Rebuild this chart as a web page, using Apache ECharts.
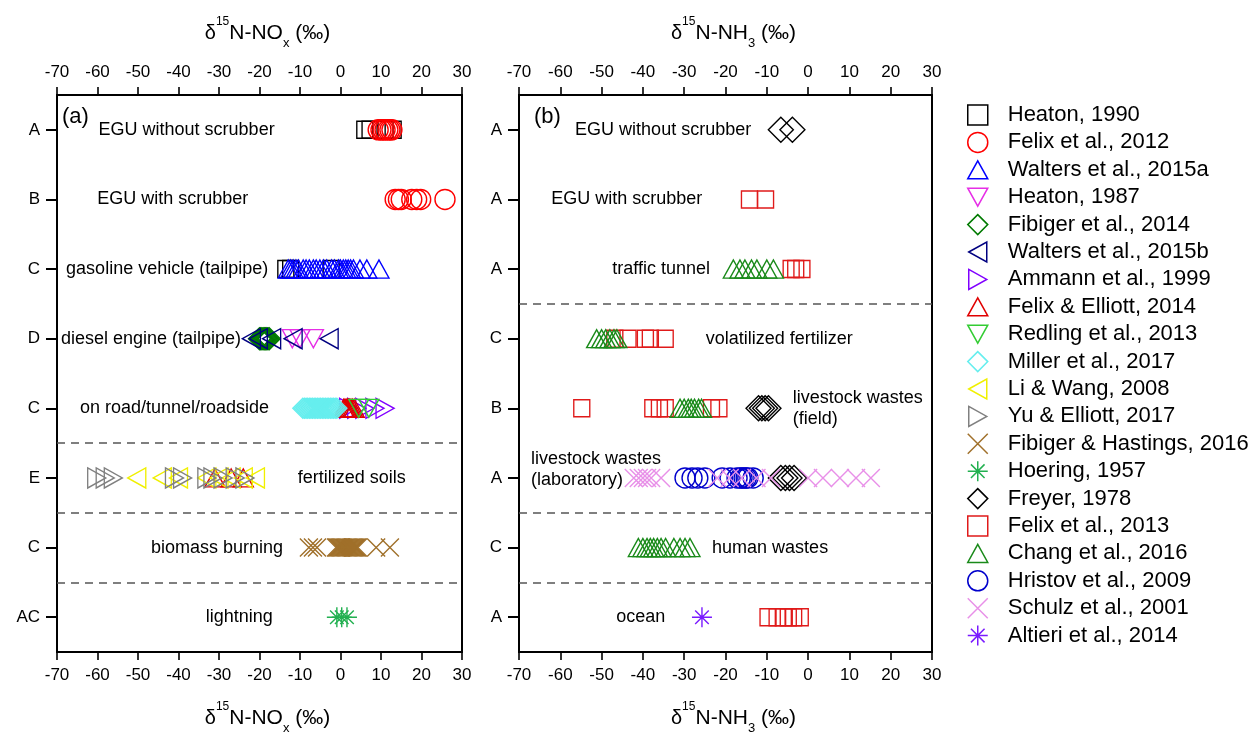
<!DOCTYPE html>
<html><head><meta charset="utf-8">
<script src="https://cdn.jsdelivr.net/npm/echarts/dist/echarts.min.js"></script>
<style>html,body{margin:0;padding:0;background:#fff}#c{width:1254px;height:736px}</style>
</head><body><div id="c"></div>
<script>
// ---------- axes / tick labels ----------
const xMin = -70, xMax = 30, xStep = 10;
const rowLabelsA = ['A', 'B', 'C', 'D', 'C', 'E', 'C', 'AC'];
const rowLabelsB = ['A', 'A', 'A', 'C', 'B', 'A', 'C', 'A'];
const separatorsA = [5, 6, 7];
const separatorsB = [3, 6, 7];
const panelLetters = ['(a)', '(b)'];

// ---------- text annotations: [text, x value, row, align] ----------
const annotA = [
  ['EGU without scrubber', -38, 0, 'center'],
  ['EGU with scrubber', -41.4, 1, 'center'],
  ['gasoline vehicle (tailpipe)', -42.8, 2, 'center'],
  ['diesel engine (tailpipe)', -46.8, 3, 'center'],
  ['on road/tunnel/roadside', -41, 4, 'center'],
  ['fertilized soils', 2.8, 5, 'center'],
  ['biomass burning', -30.5, 6, 'center'],
  ['lightning', -25, 7, 'center']
];
const annotB = [
  ['EGU without scrubber', -35.1, 0, 'center'],
  ['EGU with scrubber', -43.9, 1, 'center'],
  ['traffic tunnel', -35.6, 2, 'center'],
  ['volatilized fertilizer', -7, 3, 'center'],
  ['livestock wastes\n(field)', -3.7, 4, 'left'],
  ['livestock wastes\n(laboratory)', -67.1, 5, 'left'],
  ['human wastes', -9.2, 6, 'center'],
  ['ocean', -40.5, 7, 'center']
];

// ---------- data: [delta15N value, row index] ----------
// panel (a) NOx
const heaton1990 = [[6,0],[7.3,0],[11,0],[13,0],[-13.5,2],[-12.3,2],[-2.3,2]];
const felix2012 = [[9.3,0],[10,0],[10.5,0],[11,0],[11.7,0],[12.2,0],[12.7,0],
  [13.5,1],[14.3,1],[15,1],[17.6,1],[18.8,1],[19.8,1],[25.8,1]];
const walters2015a = [[-12.9,2],[-12.3,2],[-11.7,2],[-11,2],[-10.4,2],[-9.2,2],[-8.5,2],[-7.7,2],[-6.7,2],[-6,2],
  [-5.1,2],[-4.2,2],[-3.4,2],[-2.2,2],[-1.5,2],[-0.5,2],[0,2],[0.7,2],[1.3,2],[1.9,2],[2.5,2],[3.2,2],[4.8,2],[6.5,2],[9.5,2]];
const heaton1987 = [[-11.9,3],[-10,3],[-6.7,3]];
const fibiger2014 = [[-20,3],[-19.7,3],[-19.4,3],[-19.1,3],[-18.8,3],[-18.5,3],[-18.2,3],[-17.9,3],[-17.6,3]];
const walters2015b = [[-22,3],[-20.3,3],[-17,3],[-11.7,3],[-2.8,3]];
const ammann1999 = [[2,4],[4,4],[6,4],[8.5,4],[11,4]];
const felixElliott2014 = [[0.8,4],[1.1,4],[1.4,4],[1.7,4],[2,4],[2.3,4],[2.6,4],[3,4],[3.4,4],
  [-31,5],[-27,5],[-24,5]];
const redling2013 = [[4.5,4],[7,4]];
const miller2017 = [[-9.3,4],[-8.9,4],[-8.5,4],[-8.1,4],[-7.7,4],[-7.3,4],[-6.9,4],[-6.5,4],[-6.1,4],[-5.7,4],[-5.3,4],
  [-4.9,4],[-4.5,4],[-4.1,4],[-3.7,4],[-3.3,4],[-2.9,4],[-2.5,4],[-2.1,4],[-1.7,4],[-1.3,4],[-0.9,4]];
const liWang2008 = [[-50.3,5],[-44,5],[-40,5],[-33,5],[-30,5],[-27,5],[-24,5],[-21,5]];
const yuElliott2017 = [[-60.2,5],[-58.1,5],[-56.1,5],[-41,5],[-39,5],[-33,5],[-31.5,5],[-29,5],[-26,5],[-23.6,5]];
const fibigerHastings2016 = [[-7.8,6],[-6.8,6],[-5.8,6],[-1.1,6],[-0.8,6],[-0.5,6],[-0.2,6],[0.1,6],[0.4,6],[0.7,6],
  [1,6],[1.3,6],[1.6,6],[1.9,6],[2.2,6],[2.5,6],[2.8,6],[3.1,6],[3.4,6],[3.7,6],[4,6],[4.3,6],[8.8,6],[12.2,6]];
const hoering1957 = [[-0.9,7],[0.3,7],[1.6,7]];
// panel (b) NH3
const freyer1978 = [[-6.6,0],[-3.8,0],[-12,4],[-11.2,4],[-10.4,4],[-9.6,4],[-6.6,5],[-5.5,5],[-4.5,5],[-3.4,5]];
const felix2013 = [[-14.2,1],[-10.3,1],[-4.1,2],[-3,2],[-1.5,2],
  [-46.8,3],[-43.6,3],[-39.4,3],[-38.2,3],[-34.6,3],
  [-54.8,4],[-37.6,4],[-36,4],[-34.6,4],[-23.4,4],[-21.6,4],
  [-9.7,7],[-7.5,7],[-6,7],[-4.8,7],[-3.5,7],[-1.9,7]];
const chang2016 = [[-18.1,2],[-16.5,2],[-15.3,2],[-13.7,2],[-12.4,2],[-10,2],[-8.4,2],
  [-51.2,3],[-50,3],[-49,3],[-48,3],[-47,3],[-46.3,3],
  [-31,4],[-30,4],[-29,4],[-28.3,4],[-27.5,4],[-26.5,4],[-25.8,4],
  [-41.1,6],[-40,6],[-39,6],[-38.2,6],[-37.4,6],[-36.5,6],[-35.6,6],[-34.5,6],[-32.5,6],[-31,6],[-29.8,6],[-28.6,6]];
const hristov2009 = [[-29.8,5],[-28.1,5],[-26.7,5],[-25,5],[-20.8,5],[-18.9,5],[-17.2,5],[-16.4,5],[-16,5],[-15.5,5],
  [-15,5],[-14.6,5],[-13.3,5]];
const schulz2001 = [[-42.2,5],[-41,5],[-40,5],[-39,5],[-38,5],[-35.6,5],[-22,5],[-19,5],[-16,5],[-12.5,5],[-9,5],
  [0,5],[3.6,5],[7.7,5],[11.6,5],[15.2,5]];
const altieri2014 = [[-25.7,7]];

// ---------- symbols ----------
const CROSS = 'path://M0,0L10,10M0,10L10,0';
const STAR = 'path://M5,0L5,10M0,5L10,5M1.6,1.6L8.4,8.4M1.6,8.4L8.4,1.6';
const T_UP = 'path://M5,0L10,9L0,9Z';
const T_DOWN = 'path://M0,0L10,0L5,9Z';
const T_LEFT = 'path://M0,5L9,0L9,10Z';
const T_RIGHT = 'path://M0,0L9,5L0,10Z';
const TH = [20, 18], TV = [18, 20];

const sources = [
  {name:'Heaton, 1990', data:heaton1990, g:0, symbol:'rect', size:[16,17], color:'#000000'},
  {name:'Felix et al., 2012', data:felix2012, g:0, symbol:'circle', size:20, color:'#ff0000'},
  {name:'Walters et al., 2015a', data:walters2015a, g:0, symbol:T_UP, size:TH, color:'#0000ff'},
  {name:'Heaton, 1987', data:heaton1987, g:0, symbol:T_DOWN, size:TH, color:'#e62ee6'},
  {name:'Fibiger et al., 2014', data:fibiger2014, g:0, symbol:'diamond', size:22, color:'#007a00'},
  {name:'Walters et al., 2015b', data:walters2015b, g:0, symbol:T_LEFT, size:TV, color:'#000080'},
  {name:'Ammann et al., 1999', data:ammann1999, g:0, symbol:T_RIGHT, size:TV, color:'#8000ff'},
  {name:'Felix & Elliott, 2014', data:felixElliott2014, g:0, symbol:T_UP, size:TH, color:'#e00000'},
  {name:'Redling et al., 2013', data:redling2013, g:0, symbol:T_DOWN, size:TH, color:'#33cc33'},
  {name:'Miller et al., 2017', data:miller2017, g:0, symbol:'diamond', size:20, color:'#66eeee'},
  {name:'Li & Wang, 2008', data:liWang2008, g:0, symbol:T_LEFT, size:TV, color:'#f0f000'},
  {name:'Yu & Elliott, 2017', data:yuElliott2017, g:0, symbol:T_RIGHT, size:TV, color:'#808080'},
  {name:'Fibiger & Hastings, 2016', data:fibigerHastings2016, g:0, symbol:CROSS, size:18, color:'#a0702a'},
  {name:'Hoering, 1957', data:hoering1957, g:0, symbol:STAR, size:20, color:'#22b050'},
  {name:'Freyer, 1978', data:freyer1978, g:1, symbol:'diamond', size:25, color:'#000000'},
  {name:'Felix et al., 2013', data:felix2013, g:1, symbol:'rect', size:[16,17], color:'#e01a1a'},
  {name:'Chang et al., 2016', data:chang2016, g:1, symbol:T_UP, size:TH, color:'#1a8a1a'},
  {name:'Hristov et al., 2009', data:hristov2009, g:1, symbol:'circle', size:20, color:'#0000cc'},
  {name:'Schulz et al., 2001', data:schulz2001, g:1, symbol:CROSS, size:18, color:'#e890e8'},
  {name:'Altieri et al., 2014', data:altieri2014, g:1, symbol:STAR, size:20, color:'#7a1aff'}
];

const FONT = 'Liberation Sans, Arial, sans-serif';
const grids = [
  {left:57, right:792, top:95, bottom:84},
  {left:519, right:322, top:95, bottom:84}
];
const nameRich = {
  d:{fontSize:20, lineHeight:34, color:'#000', fontFamily:FONT},
  s:{fontSize:12, lineHeight:12, verticalAlign:'top', color:'#000', fontFamily:FONT},
  n:{fontSize:21, lineHeight:34, color:'#000', fontFamily:FONT},
  b:{fontSize:13, lineHeight:13, verticalAlign:'bottom', color:'#000', fontFamily:FONT}
};
const axisNames = ['{d|δ}{s|15}{n|N-NO}{b|x}{n| (‰)}', '{d|δ}{s|15}{n|N-NH}{b|3}{n| (‰)}'];

const xAxes = [], yAxes = [];
grids.forEach((gr, g) => {
  ['bottom', 'top'].forEach(pos => {
    xAxes.push({
      type:'value', gridIndex:g, position:pos, min:xMin, max:xMax, interval:xStep,
      name:axisNames[g], nameLocation:'middle', nameGap: pos === 'top' ? 45 : 49,
      nameTextStyle:{rich:nameRich, padding:[0, 0, 0, 16]},
      axisLine:{show:true, onZero:false, lineStyle:{color:'#000', width:2}},
      axisTick:{show:true, inside:false, length:8, lineStyle:{color:'#000', width:1.6}},
      axisLabel:{fontSize:17, color:'#000', fontFamily:FONT, margin: pos === 'top' ? 14 : 15},
      splitLine:{show:false}
    });
  });
  yAxes.push({
    type:'category', gridIndex:g, position:'left', inverse:true, boundaryGap:true,
    data: g === 0 ? rowLabelsA : rowLabelsB,
    axisLine:{show:true, onZero:false, lineStyle:{color:'#000', width:2}},
    axisTick:{show:true, alignWithLabel:true, length:11, lineStyle:{color:'#000', width:2}},
    axisLabel:{fontSize:17, color:'#000', fontFamily:FONT, margin:17},
    splitLine:{show:false}
  });
  yAxes.push({type:'value', gridIndex:g, show:false, min:0, max:8, inverse:true,
    axisLine:{onZero:false}});
});

const series = [];
sources.forEach(s => {
  series.push({
    type:'scatter', name:s.name, xAxisIndex:s.g*2, yAxisIndex:s.g*2, data:s.data,
    symbol:s.symbol, symbolSize:s.size,
    itemStyle:{color:'rgba(0,0,0,0)', borderColor:s.color, borderWidth:1.4, opacity:1},
    emphasis:{disabled:true}, silent:true
  });
});
[separatorsA, separatorsB].forEach((seps, g) => {
  series.push({
    type:'scatter', name:'sep' + g, xAxisIndex:g*2, yAxisIndex:g*2+1, data:[], silent:true,
    markLine:{symbol:'none', silent:true, label:{show:false},
      lineStyle:{type:[8,6], color:'#555', width:1.5, opacity:1},
      data: seps.map(v => ({yAxis:v}))}
  });
});
[annotA, annotB].forEach((ann, g) => {
  series.push({
    type:'scatter', name:'ann' + g, xAxisIndex:g*2, yAxisIndex:g*2, silent:true,
    symbolSize:1, itemStyle:{color:'rgba(0,0,0,0)', opacity:1},
    data: ann.map(a => ({
      value:[a[1], a[2]], name:a[0],
      label:{show:true, position:'inside', align:a[3], formatter:'{b}',
        fontSize:18, lineHeight:21, color:'#000', opacity:1, fontFamily:FONT,
        offset: a[0].indexOf('laboratory') >= 0 ? [0, -8] : [0, 0]}
    }))
  });
});

const chart = echarts.init(document.getElementById('c'), null, {renderer:'canvas'});
chart.setOption({
  animation:false,
  backgroundColor:'#fff',
  textStyle:{fontFamily:FONT},
  grid: grids.map(gr => Object.assign({show:true, borderColor:'#000', borderWidth:2,
    backgroundColor:'rgba(0,0,0,0)', containLabel:false, outerBoundsMode:'none'}, gr)),
  xAxis:xAxes,
  yAxis:yAxes,
  legend:{
    data: sources.map(s => s.name),
    orient:'vertical', left:962, top:99,
    itemWidth:20, itemHeight:20, itemGap:5.4, selectedMode:false,
    itemStyle:{borderWidth:1.5},
    textStyle:{fontSize:22, lineHeight:22, color:'#000', fontFamily:FONT, padding:[0, 0, 0, 15]}
  },
  graphic: panelLetters.map((t, g) => ({
    type:'text', left: g === 0 ? 62 : 534, top:106,
    style:{text:t, fontSize:22, fontFamily:FONT, fill:'#000'}
  })),
  series:series
});
</script>
</body></html>
